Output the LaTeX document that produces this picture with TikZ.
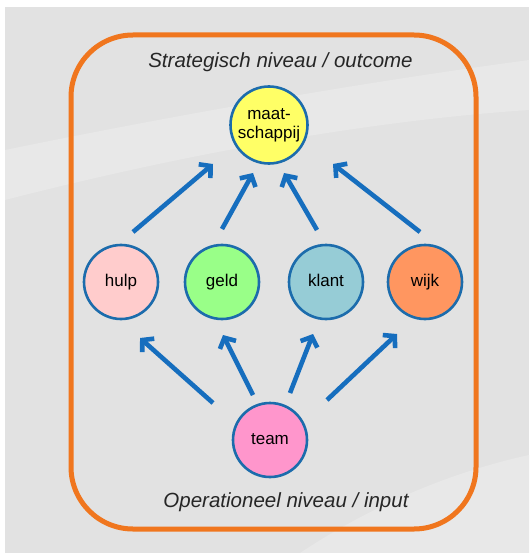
\documentclass[tikz,border=0pt]{standalone}
\usepackage{fontspec}
\setmainfont{Liberation Sans}
\usetikzlibrary{arrows.meta}
\definecolor{bggray}{RGB}{226,226,226}
\definecolor{bglight}{RGB}{232,232,232}
\definecolor{frameorange}{RGB}{240,118,30}
\definecolor{circblue}{RGB}{28,108,172}
\definecolor{arrblue}{RGB}{22,110,190}
\definecolor{cyellow}{RGB}{255,255,102}
\definecolor{cpink}{RGB}{255,204,204}
\definecolor{cgreen}{RGB}{153,255,136}
\definecolor{cteal}{RGB}{150,204,214}
\definecolor{corange}{RGB}{255,150,96}
\definecolor{cmagenta}{RGB}{255,150,204}
\tikzset{
  bubble/.style={circle, draw=circblue, line width=2.6pt, minimum size=74pt,
    inner sep=0pt, align=center, text=black,
    font=\fontsize{17}{19}\selectfont},
  oneline/.style={text height=12.5pt, text depth=3.5pt},
  levellabel/.style={anchor=base, font=\fontsize{20.5}{24}\selectfont\itshape, text=black!85},
  arr/.style={draw=arrblue, line width=4.6pt,
    -{Straight Barb[length=8pt,width=18pt]}},
}
\begin{document}
\begin{tikzpicture}[x=1pt,y=-1pt]
\useasboundingbox (0,0) rectangle (529,553);
\fill[white] (0,0) rectangle (529,553);
\fill[bggray] (5,7) rectangle (529,553);
\fill[bglight] (5,200) .. controls (200,150) and (380,120) .. (529,110) -- (529,60) .. controls (380,80) and (200,110) .. (5,150) -- cycle;
\fill[bglight] (300,553) .. controls (380,500) and (460,470) .. (529,455) -- (529,553) -- cycle;
\draw[frameorange, line width=5pt, rounded corners=62pt] (71,35) rectangle (476,529);

\node[levellabel] (top) at (280.5,68) {Strategisch niveau / outcome};
\node[levellabel] (bottom) at (286,507) {Operationeel niveau / input};

\node[bubble, fill=cyellow, minimum size=77pt] (maat) at (269,125) {maat-\\schappij};
\node[bubble, oneline, fill=cpink] (hulp) at (121,282) {hulp};
\node[bubble, oneline, fill=cgreen] (geld) at (222,282) {geld};
\node[bubble, oneline, fill=cteal] (klant) at (326,282) {klant};
\node[bubble, oneline, fill=corange] (wijk) at (425,282) {wijk};
\node[bubble, oneline, fill=cmagenta] (team) at (270,440) {team};

\draw[arr] ([shift={(12,-50)}]hulp.center) -- ([shift={(-56,39)}]maat.center);
\draw[arr] ([shift={(0,-53)}]geld.center) -- ([shift={(-16,48)}]maat.center);
\draw[arr] ([shift={(-9,-52)}]klant.center) -- ([shift={(15,48)}]maat.center);
\draw[arr] ([shift={(-5,-50)}]wijk.center) -- ([shift={(64,39)}]maat.center);

\draw[arr] ([shift={(-57,-37)}]team.center) -- ([shift={(19,56)}]hulp.center);
\draw[arr] ([shift={(-17,-45)}]team.center) -- ([shift={(1,53)}]geld.center);
\draw[arr] ([shift={(20,-47)}]team.center) -- ([shift={(-13,52)}]klant.center);
\draw[arr] ([shift={(57,-40)}]team.center) -- ([shift={(-28,52)}]wijk.center);
\end{tikzpicture}
\end{document}
